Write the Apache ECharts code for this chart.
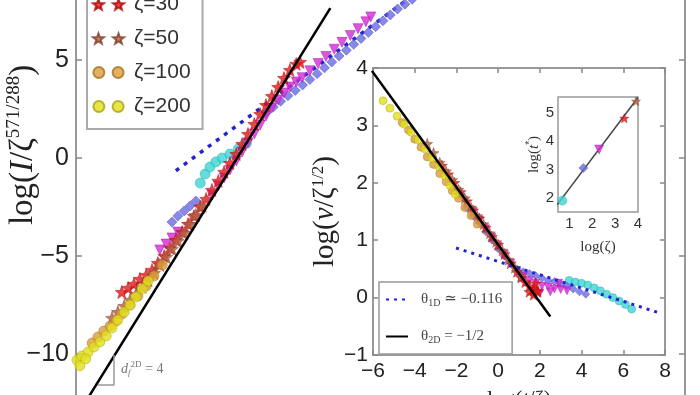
<!DOCTYPE html>
<html><head><meta charset="utf-8">
<script src="https://cdn.jsdelivr.net/npm/echarts@6/dist/echarts.min.js"></script>
<style>html,body{margin:0;padding:0;background:#fff}#c{width:700px;height:395px}</style>
</head><body><div id="c"></div>
<script>
// ---------- categories ----------
const zetaNames = ['ζ=2','ζ=5','ζ=10','ζ=30','ζ=50','ζ=100','ζ=200'];
const zetaColors = ['#3fd4d4','#6a6ae4','#d42ad6','#e01818','#b0603e','#dc9c38','#e2de1c'];
const zetaEdges  = ['#22a8a8','#4646b8','#a010a8','#b00808','#80402a','#a87020','#a8a410'];

// ---------- main panel: log(I/zeta^(571/288)) ----------
const mainCyan = [[2.55,-1.28],[2.65,-0.82],[2.75,-0.46],[2.87,-0.2],[3.0,0.0],[3.16,0.2],[3.33,0.46],[3.5,0.75]];
const mainBlue = [[1.97,-3.27],[2.09,-2.96],[2.22,-2.70],[2.34,-2.45],[2.46,-2.19],[3.9,2.3],[4.05,2.6],[4.2,2.9],[4.35,3.18],[4.5,3.45],[4.65,3.72],[4.8,4.0],[4.95,4.3],[5.1,4.6],[5.25,4.9],[5.4,5.2],[5.55,5.5],[5.7,5.8],[5.85,6.1],[6.0,6.4],[6.15,6.7],[6.3,7.0],[6.45,7.3],[6.6,7.6],[6.75,7.85],[6.9,8.1]];
const mainMagenta = [[1.72,-4.69],[1.85,-4.39],[1.97,-4.08],[2.09,-3.78],[2.79,-1.89],[2.92,-1.43],[3.04,-1.02],[3.16,-0.61],[3.29,-0.15],[3.41,0.31],[3.53,0.77],[3.66,1.22],[3.78,1.68],[3.90,2.14],[4.02,2.55],[4.15,2.96],[4.27,3.32],[4.39,3.62],[4.52,3.88],[4.64,4.1],[4.80,4.45],[4.97,4.82],[5.13,5.18],[5.30,5.55],[5.46,5.9],[5.63,6.25],[5.79,6.6],[5.95,6.95],[6.05,7.2]];
const mainRed = [[0.94,-6.84],[1.07,-6.63],[1.19,-6.43],[1.31,-6.17],[1.44,-5.97],[1.56,-5.71],[1.68,-5.36],[1.81,-5.00],[1.93,-4.59],[2.05,-4.18],[2.18,-3.78],[2.30,-3.37],[2.42,-2.96],[2.55,-2.50],[2.67,-2.09],[2.79,-1.63],[2.92,-1.17],[3.04,-0.71],[3.16,-0.26],[3.29,0.20],[3.41,0.71],[3.53,1.22],[3.66,1.73],[3.78,2.24],[3.90,2.70],[4.02,3.16],[4.15,3.62],[4.27,4.08],[4.39,4.49],[4.52,4.80],[4.60,4.90]];
const mainBrown = [[0.74,-8.16],[0.86,-7.86],[0.99,-7.55],[1.11,-7.24],[1.23,-6.94],[1.36,-6.58],[1.48,-6.22],[1.60,-5.87],[1.72,-5.46],[1.85,-5.05],[1.97,-4.64],[2.09,-4.23],[2.22,-3.83],[2.34,-3.37],[2.46,-2.91],[2.59,-2.45]];
const mainOrange = [[0.33,-9.44],[0.45,-9.13],[0.57,-8.83],[0.70,-8.57],[0.82,-8.32],[0.94,-7.96],[1.11,-7.50],[1.27,-7.04],[1.44,-6.53],[1.60,-6.02],[1.77,-5.46]];
const mainYellow = [[0.02,-10.31],[0.12,-10.10],[0.25,-9.90],[0.37,-9.64],[0.49,-9.39],[0.62,-9.08],[0.74,-8.67],[0.86,-8.27],[0.99,-7.86],[1.11,-7.50],[1.23,-7.09],[1.36,-6.68],[1.48,-6.28],[0.08,-10.6],[0.2,-10.25]];
const mainFit4 = [[0.2,-12.43],[5.22,7.65]];
const mainFitDotted = [[2.05,-0.65],[7.0,8.45]];
const slopeTriangle = [[0.45,-11.58],[0.78,-11.58],[0.78,-10.05]];

// ---------- inset: log(v/zeta^(1/2)) vs log(t/zeta) ----------
const insYellow = [[-5.52,3.43],[-5.19,3.30],[-4.85,3.16],[-4.51,3.02],[-4.18,2.88],[-3.84,2.75],[-3.51,2.59],[-3.17,2.43],[-2.84,2.28],[-2.55,2.12],[-2.3,1.95],[-2.05,1.8]];
const insOrange = [[-4.6,3.05],[-4.3,2.92],[-4.0,2.76],[-3.7,2.62],[-3.4,2.45],[-3.1,2.32],[-2.8,2.16],[-2.5,2.02],[-2.2,1.86],[-1.9,1.73],[-1.6,1.57],[-1.3,1.43],[-1.0,1.28]];
const insBrown = [[-3.4,2.68],[-3.1,2.52],[-2.8,2.35],[-2.5,2.2],[-2.2,2.05],[-1.9,1.88],[-1.6,1.73],[-1.3,1.57],[-1.0,1.42],[-0.7,1.28],[-0.4,1.12],[-0.1,0.97],[0.2,0.82],[0.5,0.66],[0.8,0.52],[1.1,0.38]];
const insRed = [[-2.7,2.30],[-2.4,2.15],[-2.1,2.0],[-1.8,1.84],[-1.5,1.68],[-1.2,1.52],[-0.9,1.38],[-0.6,1.22],[-0.3,1.06],[0.0,0.92],[0.3,0.76],[0.6,0.6],[0.9,0.45],[1.1,0.35],[1.3,0.27],[1.5,0.2],[1.7,0.15],[1.85,0.12],[1.5,0.1],[1.7,0.05],[1.9,0.1],[1.8,0.25]];
const insMagenta = [[-1.2,1.5],[-0.9,1.35],[-0.6,1.2],[-0.3,1.05],[0.0,0.9],[0.3,0.75],[0.6,0.6],[0.9,0.47],[1.2,0.37],[1.5,0.3],[1.8,0.25],[2.1,0.2],[2.4,0.18],[2.7,0.15],[3.0,0.14],[3.3,0.12],[1.6,0.12],[2.0,0.08],[2.5,0.1],[2.9,0.25]];
const insBlue = [[-1.8,1.8],[-1.5,1.56],[-1.2,1.42],[-0.9,1.3],[-0.6,1.15],[-0.3,1.0],[0.0,0.85],[0.3,0.72],[0.6,0.6],[0.9,0.5],[1.2,0.45],[1.5,0.42],[1.8,0.38],[2.1,0.34],[2.4,0.3],[2.7,0.28],[3.0,0.24],[3.3,0.2],[3.6,0.15],[3.9,0.1],[4.2,0.06]];
const insCyan = [[3.4,0.3],[3.7,0.27],[4.0,0.25],[4.3,0.22],[4.6,0.17],[4.9,0.12],[5.2,0.06],[5.5,0.0],[5.8,-0.06],[6.1,-0.12],[6.4,-0.2]];
const insFit2D = [[-6.05,3.95],[2.5,-0.33]];
const insFit1D = [[-2.02,0.864],[7.76,-0.27]];

// ---------- inner inset: log(t*) vs log(zeta) ----------
const innerLogZeta = [0.69,1.61,2.30,3.40,3.91];
const innerLogT = [1.9,3.05,3.7,4.8,5.4];
const innerFit = [[0.46,1.75],[4.0,5.53]];
const innerXTicks = [1,2,3,4];
const innerYTicks = [2,3,4,5];

// ---------- styles ----------
const STAR = 'path://M6,0L7.47,3.98L11.71,4.15L8.38,6.77L9.53,10.85L6,8.5L2.47,10.85L3.62,6.77L0.29,4.15L4.53,3.98Z';
const zetaSymbols = ['circle','diamond','triangle',STAR,STAR,'circle','circle'];
const zetaRot = [0,0,180,0,0,0,0];
const C2 = 'path://M0,6a6,6 0 1,0 12,0a6,6 0 1,0 -12,0zM21,6a6,6 0 1,0 12,0a6,6 0 1,0 -12,0z';
const S2 = 'path://M6,0L7.47,3.98L11.71,4.15L8.38,6.77L9.53,10.85L6,8.5L2.47,10.85L3.62,6.77L0.29,4.15L4.53,3.98ZM27,0L28.47,3.98L32.71,4.15L29.38,6.77L30.53,10.85L27,8.5L23.47,10.85L24.62,6.77L21.29,4.15L25.53,3.98Z';
const legendIcons = [C2, 'path://M6,0L12,6L6,12L0,6ZM27,0L33,6L27,12L21,6Z', 'path://M0,1L12,1L6,11ZM21,1L33,1L27,11Z', S2, S2, C2, C2];
const SANS = "'Liberation Sans','DejaVu Sans',sans-serif";
const SERIF = "'Liberation Serif','DejaVu Serif',serif";
const minus = v => v < 0 ? '\u2212' + Math.abs(v) : String(v);

const mainData = [mainCyan, mainBlue, mainMagenta, mainRed, mainBrown, mainOrange, mainYellow];
const insData = [insCyan, insBlue, insMagenta, insRed, insBrown, insOrange, insYellow];

const series = [];
series.push({type:'line', xAxisIndex:0, yAxisIndex:0, data: mainFitDotted, symbol:'none',
  lineStyle:{color:'#2424d4', width:3.5, type:[4,6]}, z:1});
mainData.forEach((d,i) => series.push({
  type:'scatter', name: zetaNames[i], xAxisIndex:0, yAxisIndex:0, data:d,
  symbol: zetaSymbols[i], symbolRotate: zetaRot[i], symbolSize: zetaSymbols[i]===STAR?13:10,
  itemStyle:{color: zetaColors[i], borderColor: zetaEdges[i], borderWidth:0.6}, z:2
}));
series.push({type:'line', xAxisIndex:0, yAxisIndex:0, data: mainFit4, symbol:'none',
  lineStyle:{color:'#000', width:2.5}, z:3});
series.push({type:'line', xAxisIndex:0, yAxisIndex:0, data: slopeTriangle, symbol:'none',
  lineStyle:{color:'#999', width:1.5}, z:3});

insData.forEach((d,i) => series.push({
  type:'scatter', name: zetaNames[i], xAxisIndex:1, yAxisIndex:2, data:d,
  symbol: zetaSymbols[i], symbolRotate: zetaRot[i], symbolSize: zetaSymbols[i]===STAR?11:8,
  itemStyle:{color: zetaColors[i], borderColor: zetaEdges[i], borderWidth:0.5}, z:6
}));
series.push({type:'line', name:'theta1D', xAxisIndex:1, yAxisIndex:2, data: insFit1D, symbol:'none',
  itemStyle:{color:'#2424d4'}, lineStyle:{color:'#2424d4', width:3, type:[3,5]}, z:7});
series.push({type:'line', name:'theta2D', xAxisIndex:1, yAxisIndex:2, data: insFit2D, symbol:'none',
  itemStyle:{color:'#000'}, lineStyle:{color:'#000', width:2.5}, z:7});

series.push({type:'line', xAxisIndex:3, yAxisIndex:4, data: innerFit, symbol:'none',
  lineStyle:{color:'#444', width:1.5}, z:10});
series.push({type:'scatter', xAxisIndex:3, yAxisIndex:4, z:11,
  data: innerLogZeta.map((x,i)=>({value:[x, innerLogT[i]], symbol: zetaSymbols[i], symbolRotate: zetaRot[i],
    itemStyle:{color: zetaColors[i], borderColor: zetaEdges[i], borderWidth:0.5}})),
  symbolSize: 9});

const tickStyle = {color:'#888', width:1.5};
const noLine = {show:false, onZero:false};
const option = {
  animation:false,
  backgroundColor:'#fff',
  grid:[
    {left:76, right:15, top:-38, bottom:-57, outerBoundsMode:'none', containLabel:false, show:true, borderColor:'#999', borderWidth:2, backgroundColor:'transparent'},
    {left:373, top:68, width:292, height:287, outerBoundsMode:'none', containLabel:false, show:true, backgroundColor:'#fff', borderColor:'#999', borderWidth:2, z:5},
    {left:558, top:97, width:80, height:115, outerBoundsMode:'none', containLabel:false, show:true, backgroundColor:'#fff', borderColor:'#999', borderWidth:1.5, z:9}
  ],
  xAxis:[
    {gridIndex:0, type:'value', min:0, max:12.5, axisLabel:{show:false}, axisTick:{show:false}, axisLine:noLine, splitLine:{show:false}},
    {gridIndex:1, type:'value', min:-6, max:8, interval:2, z:7, axisLine:noLine, splitLine:{show:false},
      axisTick:{inside:true, length:5, lineStyle:tickStyle},
      axisLabel:{formatter:minus, fontSize:21, fontFamily:SANS, color:'#222', margin:6, hideOverlap:false},
      name:'{a|log(}{i|t}{a|/ζ)}', nameLocation:'middle', nameGap:33,
      nameTextStyle:{rich:{a:{fontSize:22, fontFamily:SERIF, color:'#222'}, i:{fontSize:22, fontFamily:SERIF, fontStyle:'italic', color:'#222'}}}},
    {gridIndex:1, type:'value', position:'top', min:-6, max:8, interval:2, z:7, axisLine:noLine, splitLine:{show:false},
      axisTick:{inside:true, length:5, lineStyle:tickStyle}, axisLabel:{show:false}},
    {gridIndex:2, type:'value', min:0.5, max:4, z:11, axisLine:noLine, splitLine:{show:false},
      axisTick:{show:false},
      axisLabel:{customValues: innerXTicks, fontSize:15, fontFamily:SANS, color:'#333', margin:4},
      name:'{a|log(ζ)}', nameLocation:'middle', nameGap:28,
      nameTextStyle:{rich:{a:{fontSize:15, fontFamily:SERIF, color:'#333'}}}}
  ],
  yAxis:[
    {gridIndex:0, type:'value', min:-15, max:10, interval:5, axisLine:noLine, splitLine:{show:false},
      axisTick:{inside:true, length:6, lineStyle:tickStyle},
      axisLabel:{formatter:minus, fontSize:25, fontFamily:SANS, color:'#222', margin:7}},
    {gridIndex:0, type:'value', position:'right', min:-15, max:10, interval:5, axisLine:noLine, splitLine:{show:false},
      axisTick:{inside:true, length:6, lineStyle:tickStyle}, axisLabel:{show:false}},
    {gridIndex:1, type:'value', min:-1, max:4, interval:1, z:7, axisLine:noLine, splitLine:{show:false},
      axisTick:{inside:true, length:5, lineStyle:tickStyle},
      axisLabel:{formatter:minus, fontSize:21, fontFamily:SANS, color:'#222', margin:5},
      name:'{a|log(}{i|v}{a|/ζ}{s|1/2}{a|)}', nameLocation:'middle', nameGap:15, nameRotate:90,
      nameTextStyle:{rich:{a:{fontSize:29, fontFamily:SERIF, color:'#222'}, i:{fontSize:29, fontFamily:SERIF, fontStyle:'italic', color:'#222'}, s:{fontSize:17, fontFamily:SERIF, color:'#222', padding:[0,0,15,0]}}}},
    {gridIndex:1, type:'value', position:'right', min:-1, max:4, interval:1, z:7, axisLine:noLine, splitLine:{show:false},
      axisTick:{inside:true, length:5, lineStyle:tickStyle}, axisLabel:{show:false}},
    {gridIndex:2, type:'value', min:1.5, max:5.55, z:11, axisLine:noLine, splitLine:{show:false},
      axisTick:{show:false},
      axisLabel:{customValues: innerYTicks, fontSize:15, fontFamily:SANS, color:'#333', margin:4},
      name:'{a|log(}{i|t}{s|*}{a|)}', nameLocation:'middle', nameGap:15, nameRotate:90,
      nameTextStyle:{rich:{a:{fontSize:15, fontFamily:SERIF, color:'#333'}, i:{fontSize:15, fontFamily:SERIF, fontStyle:'italic', color:'#333'}, s:{fontSize:10, color:'#333', padding:[0,0,8,0]}}}}
  ],
  legend:[
    {data: zetaNames.map((n,i)=>({name:n, icon: legendIcons[i]})), orient:'vertical', left:87, top:-118,
      itemWidth:31, itemHeight:11, itemGap:13, padding:[10,12,12,5], selectedMode:false,
      backgroundColor:'#fff', borderColor:'#aaa', borderWidth:2, z:12,
      textStyle:{fontSize:21, fontFamily:SANS, color:'#333', lineHeight:20, padding:[0,0,0,5]}},
    {data:['theta1D','theta2D'], orient:'vertical', left:379, top:282, itemWidth:22, itemHeight:10, itemGap:18,
      padding:[8,10,8,6], selectedMode:false, backgroundColor:'#fff', borderColor:'#999', borderWidth:1.5, z:8,
      itemStyle:{opacity:0},
      formatter: n => n==='theta1D' ? '{g|θ}{s|1D}{g| ≃ −0.116}' : '{g|θ}{s|2D}{g| = −1/2}',
      textStyle:{lineHeight:19, padding:[0,0,0,8], rich:{g:{fontSize:15, fontFamily:SERIF, color:'#444'}, s:{fontSize:10, fontFamily:SERIF, color:'#444', padding:[7,0,0,0]}}}}
  ],
  graphic:[
    {type:'text', x:23, y:145, rotation:Math.PI/2, z:20,
      style:{text:'{a|log(}{i|I}{a|/ζ}{s|571/288}{a|)}', align:'center', verticalAlign:'middle',
        rich:{a:{fontSize:33, fontFamily:SERIF, fill:'#222'}, i:{fontSize:33, fontFamily:SERIF, fontStyle:'italic', fill:'#222'}, s:{fontSize:19, fontFamily:SERIF, fill:'#222', padding:[0,0,17,0]}}}},
    {type:'text', x:121, y:369, z:20,
      style:{text:'{d|d}{f|f}{u|2D}{e| = 4}', verticalAlign:'middle',
        rich:{d:{fontSize:14, fontFamily:SERIF, fontStyle:'italic', fill:'#777'}, f:{fontSize:9, fontFamily:SERIF, fontStyle:'italic', fill:'#777', padding:[8,0,0,0]}, u:{fontSize:9, fontFamily:SERIF, fill:'#777', padding:[0,0,8,0]}, e:{fontSize:14, fontFamily:SERIF, fill:'#777'}}}}
  ],
  series: series
};
const chart = echarts.init(document.getElementById('c'));
chart.setOption(option);
</script></body></html>
